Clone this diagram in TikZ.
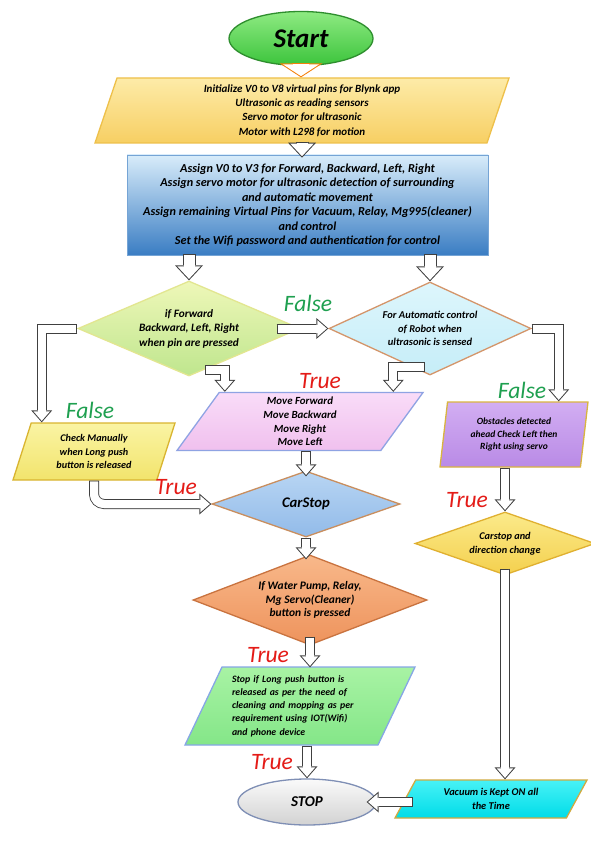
\documentclass[tikz,border=0pt]{standalone}
\usepackage{fontspec}
\setmainfont{Carlito}
\usetikzlibrary{shapes.geometric,arrows.meta,calc}

\definecolor{startA}{HTML}{8EEA82}
\definecolor{startB}{HTML}{3CC43C}
\definecolor{startD}{HTML}{2E8E2E}
\definecolor{initA}{HTML}{FDEBA8}
\definecolor{initB}{HTML}{F7CF63}
\definecolor{initD}{HTML}{EEC04A}
\definecolor{asgA}{HTML}{D8ECFA}
\definecolor{asgB}{HTML}{3A7DC3}
\definecolor{ifA}{HTML}{EEF7B8}
\definecolor{ifB}{HTML}{BFE68E}
\definecolor{ifD}{HTML}{E2E690}
\definecolor{autoA}{HTML}{DDF6FC}
\definecolor{autoB}{HTML}{C6EDF8}
\definecolor{autoD}{HTML}{D4956A}
\definecolor{chkA}{HTML}{FAF4A4}
\definecolor{chkB}{HTML}{F2E46C}
\definecolor{chkD}{HTML}{D9B430}
\definecolor{movA}{HTML}{F9DCF8}
\definecolor{movB}{HTML}{F0C0EE}
\definecolor{movD}{HTML}{8FA3E3}
\definecolor{obsA}{HTML}{D2AEF2}
\definecolor{obsB}{HTML}{B98AE6}
\definecolor{obsD}{HTML}{D9B440}
\definecolor{csA}{HTML}{B8D5F3}
\definecolor{csB}{HTML}{92BBE9}
\definecolor{csD}{HTML}{C98E5E}
\definecolor{dirA}{HTML}{FBEA8A}
\definecolor{dirB}{HTML}{F4D04E}
\definecolor{dirD}{HTML}{E0B030}
\definecolor{watA}{HTML}{F8B88A}
\definecolor{watB}{HTML}{EE935C}
\definecolor{watD}{HTML}{C9733F}
\definecolor{sifA}{HTML}{A8F3A4}
\definecolor{sifB}{HTML}{84E688}
\definecolor{sifD}{HTML}{86A6E6}
\definecolor{stpA}{HTML}{FAFAFA}
\definecolor{stpB}{HTML}{D2D2D2}
\definecolor{stpD}{HTML}{7F8FB5}
\definecolor{vacA}{HTML}{48F2F6}
\definecolor{vacB}{HTML}{00DCE8}
\definecolor{vacD}{HTML}{D0AA40}
\definecolor{truered}{HTML}{E41B17}
\definecolor{falsegreen}{HTML}{1FA050}
\definecolor{arrline}{HTML}{404040}

\begin{document}
\begin{tikzpicture}[x=1pt,y=-1pt,
    box/.style={line width=1.3pt, inner sep=0pt, align=center},
    para/.style={box, trapezium, trapezium stretches body},
    dia/.style={box, diamond},
    txt/.style 2 args={font=\bfseries\itshape\fontsize{#1}{#2}\selectfont},
    yes/.style={text=truered, font=\itshape\fontsize{23.5}{24}\selectfont},
    no/.style={text=falsegreen, font=\itshape\fontsize{23.5}{24}\selectfont},
    flow/.style={draw=arrline, line width=10pt, -{Triangle[length=12pt,width=21pt,line width=0pt]},
      postaction={draw=white, line width=8pt, shorten <=1pt, shorten >=1.5pt, -{Triangle[length=9.5pt,width=16.6pt,line width=0pt]}},
      postaction={draw=white, line width=8pt, shorten <=1pt, shorten >=10.5pt, -}},
    flowbig/.style={draw=arrline, line width=13pt, -{Triangle[length=15pt,width=28pt,line width=0pt]},
      postaction={draw=white, line width=11pt, shorten <=1pt, shorten >=1.5pt, -{Triangle[length=12.5pt,width=23.4pt,line width=0pt]}},
      postaction={draw=white, line width=11pt, shorten <=1pt, shorten >=13.5pt, -}},
    flowtop/.style={draw=orange!85!brown, line width=18pt, -{Triangle[length=14pt,width=43pt,line width=0pt]},
      postaction={draw=white, line width=16pt, shorten <=1pt, shorten >=1.2pt, -{Triangle[length=11.8pt,width=36.2pt,line width=0pt]}},
      postaction={draw=white, line width=16pt, shorten <=1pt, shorten >=12.5pt, -}}]
  \useasboundingbox[fill=white] (0,0) rectangle (590,858);

  % shapes
  \node[box, ellipse, minimum width=144pt, minimum height=54pt, top color=startA, bottom color=startB, draw=startD,
        txt={27}{30}] (st) at (301,38.5) {Start};
  \node[para, trapezium left angle=67, trapezium right angle=113, minimum width=414pt, minimum height=65pt,
        top color=initA, bottom color=initB, draw=initD, txt={11}{14.3}] (init) at (302,110.5)
        {Initialize V0 to V8 virtual pins for Blynk app\\Ultrasonic as reading sensors\\Servo motor for ultrasonic\\Motor with L298 for motion};
  \node[box, rectangle, minimum width=361pt, minimum height=100pt, top color=asgA, bottom color=asgB, draw=asgB!70,
        line width=0.6pt, txt={12.2}{14.5}] (asg) at (307.5,205)
        {Assign V0 to V3 for Forward, Backward, Left, Right\\Assign servo motor for ultrasonic detection of surrounding\\and automatic movement\\Assign remaining Virtual Pins for Vacuum, Relay, Mg995(cleaner)\\and control\\Set the Wifi password and authentication for control};
  \node[dia, aspect=2.34, minimum width=222pt, minimum height=95pt, top color=ifA, bottom color=ifB, draw=ifD, txt={11.3}{14.5}] (d1) at (189,328.5)
        {if Forward\\Backward, Left, Right\\when pin are pressed};
  \node[dia, aspect=2.17, minimum width=202pt, minimum height=93pt, top color=autoA, bottom color=autoB, draw=autoD, txt={10.5}{13.5}] (d2) at (430,328.5)
        {For Automatic control\\of Robot when\\ultrasonic is sensed};
  \node[para, trapezium left angle=62, trapezium right angle=118, minimum width=162pt, minimum height=57pt,
        top color=chkA, bottom color=chkB, draw=chkD, txt={10.2}{13.5}] (chk) at (94,451.5)
        {Check Manually\\when Long push\\button is released};
  \node[para, trapezium left angle=49, trapezium right angle=131, minimum width=246pt, minimum height=58pt,
        top color=movA, bottom color=movB, draw=movD, txt={10.9}{13.6}] (mov) at (300,421.5)
        {Move Forward\\Move Backward\\Move Right\\Move Left};
  \node[para, trapezium left angle=77, trapezium right angle=103, minimum width=148pt, minimum height=65pt,
        top color=obsA, bottom color=obsB, draw=obsD, txt={9.5}{12.2}] (obs) at (514,434.5)
        {Obstacles detected\\ahead Check Left then\\Right using servo};
  \node[dia, aspect=2.85, minimum width=188pt, minimum height=66pt, top color=csA, bottom color=csB, draw=csD, txt={14.7}{16}] (cs) at (306,504)
        {CarStop};
  \node[dia, aspect=2.86, minimum width=180pt, minimum height=63pt, top color=dirA, bottom color=dirB, draw=dirD, txt={10.3}{14}] (cs2) at (505,543.5)
        {Carstop and\\direction change};
  \node[dia, aspect=2.6, minimum width=234pt, minimum height=90pt, top color=watA, bottom color=watB, draw=watD, txt={11.5}{13.2}] (wat) at (310,600)
        {If Water Pump, Relay,\\Mg Servo(Cleaner)\\button is pressed};
  \node[para, trapezium left angle=59, trapezium right angle=121, minimum width=230pt, minimum height=78pt,
        top color=sifA, bottom color=sifB, draw=sifD, txt={9.8}{13.3}, text width=136pt, align=left] (sif) at (300,706)
        {Stop if Long push button is\\released as per the need of\\cleaning and mopping as per\\requirement using IOT(Wifi)\\and phone device};
  \node[box, ellipse, minimum width=138pt, minimum height=46pt, top color=stpA, bottom color=stpB, draw=stpD,
        txt={15}{16}] (stp) at (307,802) {STOP};
  \node[para, trapezium left angle=46, trapezium right angle=134, minimum width=192pt, minimum height=38pt,
        top color=vacA, bottom color=vacB, draw=vacD, txt={10.4}{14}] (vac) at (491,799)
        {Vacuum is Kept ON all\\the Time};

  % connectors
  \draw[flowtop] (st.south) -- (st.south |- init.north);
  \draw[flowbig] ($(init.south)+(0,-2)$) -- ($(init.south |- asg.north)+(0,3)$);
  \draw[flowbig] ($(d1.north |- asg.south)+(0,-1)$) -- (d1.north);
  \draw[flowbig] ($(d2.north |- asg.south)+(0,-1)$) -- (d2.north);
  \draw[flow] ($(d1.east)+(-24,0)$) -- (d2.west);
  \draw[flow] (d1.west) -| ($(chk.top left corner)+(11,0)$);
  \draw[flow] ($(d1.south)+(16,-7)$) -| ($(mov.top left corner)+(6,0)$);
  \draw[flow] ($(d2.south)+(-5,-8.5)$) -| ($(mov.top right corner)+(-31,0)$);
  \draw[flow] (d2.east) -| ($(obs.top right corner)+(-30,0)$);
  \draw[flow] (cs.north |- mov.south) -- ($(cs.north)+(0,6)$);
  \draw[flow, rounded corners=10pt] (chk.south) |- (cs.west);
  \draw[flow] (cs2.north |- obs.south) -- (cs2.north);
  \draw[flow] (cs.south) -- ($(cs.south |- wat.north)+(0,5)$);
  \draw[flow] ($(wat.south)+(0,-9)$) -- ($(wat.south |- sif.north)+(0,1)$);
  \draw[flow] (stp.north |- sif.south) -- (stp.north);
  \draw[flow] ($(cs2.south)+(0,-7)$) -- (cs2.south |- vac.north);
  \draw[flow] ($(vac.west |- stp.east)+(8,0)$) -- ($(stp.east)+(-10,0)$);

  % labels
  \node[no] (f1) at (308,303) {False};
  \node[no] (f2) at (90,410) {False};
  \node[no] (f3) at (522,390) {False};
  \node[yes] (t1) at (320,381) {True};
  \node[yes] (t2) at (176,487) {True};
  \node[yes] (t3) at (467,500) {True};
  \node[yes] (t4) at (268,655) {True};
  \node[yes] (t5) at (272,762) {True};
\end{tikzpicture}
\end{document}
